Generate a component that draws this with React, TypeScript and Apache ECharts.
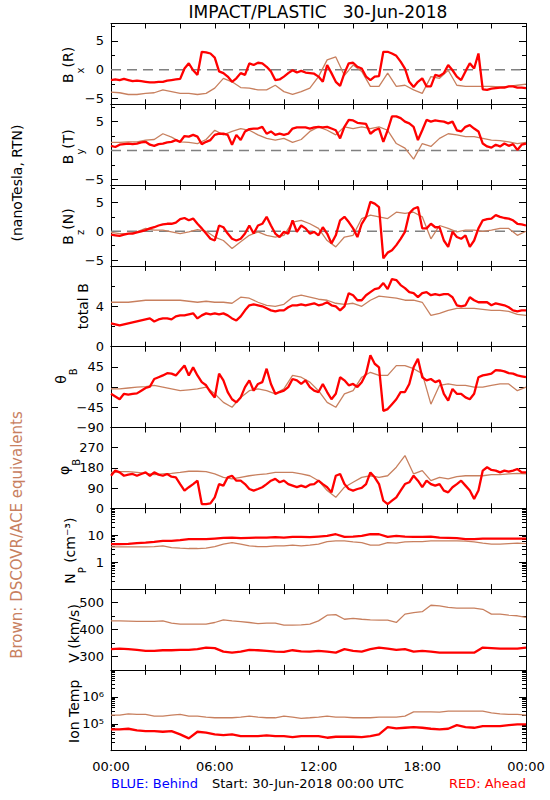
import React, { useEffect, useRef } from 'react';
import * as echarts from 'echarts';

// ---------- DATA ----------
// STEREO Ahead (red), 15-minute samples from 00:00 to 24:00
const redBx = [-1.8,-1.7,-1.8,-1.6,-1.8,-2.0,-1.9,-2.0,-2.1,-2.2,-2.2,-2.1,-2.1,-1.9,-1.8,-1.7,-1.6,0.2,1.1,-0.1,-0.9,3.1,3.0,2.8,2.1,-0.3,-0.6,-1.2,-2.1,-1.5,-0.6,-0.9,1.1,0.8,1.2,1.1,0.5,-0.3,-1.8,-1.7,-1.2,-0.6,-0.1,-0.5,-0.2,-0.5,-0.6,-0.7,-1.2,-2.1,0.8,-0.6,-2.1,-2.8,-0.6,1.1,1.2,0.5,0.2,-1.2,-1.8,-1.2,-1.1,3.1,3.1,2.8,2.4,1.4,0.2,-2.1,-3.0,-2.1,-1.5,-2.9,-2.9,-0.9,-1.1,-0.6,0.8,-0.1,-1.2,-1.8,-0.3,1.1,0.2,2.8,-3.4,-3.5,-3.3,-3.2,-3.1,-3.1,-2.9,-2.9,-3.1,-3.1,-3.2];
const redBy = [0.8,0.6,1.0,1.1,1.2,1.1,1.2,1.4,1.5,1.0,0.8,1.1,1.2,1.4,1.5,1.8,1.5,2.5,2.4,2.7,2.4,1.1,1.5,1.8,2.7,2.9,2.9,2.7,1.0,2.7,1.8,3.3,3.7,3.8,3.8,4.1,2.9,3.3,2.7,2.9,2.7,2.9,3.8,4.0,4.0,4.0,3.8,4.0,4.1,4.0,4.1,3.8,3.5,2.1,4.1,5.3,5.2,4.8,4.7,4.6,2.9,3.5,3.8,1.5,3.5,5.9,5.9,5.6,5.0,4.7,4.1,1.8,3.5,5.3,5.0,5.2,5.1,5.0,4.7,5.0,3.5,3.3,4.1,4.4,3.8,3.3,1.2,0.7,0.5,1.0,0.7,1.2,0.8,1.1,0.1,1.0,1.2];
const redBz = [-0.6,-0.7,-0.8,-0.6,-0.4,-0.4,-0.2,0,0.2,0.5,0.7,1.0,1.2,1.3,1.3,1.5,2.1,2.3,1.9,2.2,1.3,0.5,-0.4,-1.3,-1.6,1.0,0.7,-0.4,-1.3,-1.6,-1.3,-0.4,1.0,-0.4,1.0,1.3,2.5,1.0,-0.4,-1.0,-0.1,-0.4,1.9,-0.1,1.0,0.5,-0.4,-0.1,-0.7,0.7,-0.4,-2.1,-0.7,1.9,2.5,1.6,0.5,-1.0,1.3,2.5,5.1,4.8,4.2,-4.7,-3.7,-3.3,-2.4,-1.3,-0.1,3.1,3.9,4.2,0.5,0.5,1.3,0.7,0.7,-1.6,-2.7,-0.1,-1.0,-1.3,-0.7,-2.7,-1.6,0.5,1.9,2.1,2.2,2.8,2.5,2.3,2.2,1.9,1.3,1.2,1.0];
const redTotalB = [2.3,2.2,2.1,2.2,2.3,2.4,2.5,2.6,2.7,2.8,2.5,2.7,2.8,2.8,2.7,3.0,3.1,3.1,3.2,3.3,2.8,3.1,3.3,3.2,3.3,3.2,3.3,3.1,2.8,2.6,3.0,3.6,4.1,4.2,4.1,4.0,3.8,3.6,3.5,3.6,3.6,3.9,4.1,4.1,4.2,4.1,4.2,4.3,4.1,4.2,4.4,4.1,4.0,3.6,4.0,5.3,5.1,4.6,4.6,5.1,5.4,5.7,5.8,6.3,5.7,6.7,6.6,6.1,5.8,5.4,5.3,4.9,5.3,5.4,5.1,5.2,5.1,5.2,5.2,4.9,4.1,4.0,4.1,4.9,4.6,4.4,4.4,4.4,4.1,4.3,4.2,4.1,3.9,3.6,3.5,3.6,3.6];
const redTheta = [-15,-21,-27,-15,-17,-15,-14,-8,-2,1,18,22,26,31,30,26,37,48,26,44,26,11,4,-11,-23,30,15,-11,-27,-34,-23,0,15,-8,7,11,41,7,-15,-11,-8,0,18,15,7,15,0,-8,-11,7,-11,-27,-15,22,15,4,7,0,11,30,71,52,44,-53,-49,-38,-27,-11,-11,7,44,63,22,15,18,11,15,-15,-30,-4,-15,-15,-23,-27,-15,22,26,28,30,38,37,35,31,30,26,24,22];
const redPhi = [145,168,160,145,150,153,145,153,160,145,160,150,145,153,141,138,108,79,94,108,123,19,19,22,49,108,101,138,145,123,123,108,86,79,86,94,108,123,131,116,123,108,101,94,101,94,105,108,123,108,94,71,145,153,108,86,79,86,91,108,160,138,108,34,19,34,49,79,108,116,145,123,94,123,108,101,108,79,71,94,108,123,101,79,42,79,168,183,171,168,160,168,163,168,175,160,160];
// STEREO Ahead (red), 30-minute samples
const redNp = [4.64,4.64,4.77,5.06,5.35,5.66,6.17,6.17,6.53,7.11,7.11,7.11,7.53,7.97,8.20,7.75,7.97,8.20,8.20,8.44,8.20,8.68,8.68,8.44,8.93,9.45,10.9,8.68,8.93,9.45,10.9,10.9,8.68,9.45,8.93,8.68,8.68,8.93,8.20,7.97,7.75,7.11,7.11,7.53,7.53,7.53,7.53,7.53,7.53];
const redV = [327,329,327,324,321,321,323,323,324,324,327,333,331,318,314,318,324,323,321,318,317,323,319,318,321,318,314,327,321,318,327,333,329,324,327,318,321,318,314,314,314,314,314,333,331,329,329,329,333];
const redTemp = [61700,61700,65300,56600,53500,53500,50600,53500,40300,28600,50600,46500,40300,38000,40300,34900,34900,34900,37000,34900,34900,32100,34900,34900,34900,30300,33000,33000,33000,32100,34900,40300,75300,67100,71100,75300,71100,65300,61700,65300,89300,75300,71100,82000,82000,82000,89300,94400,94400];

// DSCOVR/ACE equivalents (brown), 30-minute samples
const brownBx = [-3.9,-4.0,-4.3,-4.3,-4.1,-4.0,-3.5,-3.8,-4.1,-4.1,-4.3,-4.1,-3.2,-1.5,-2.1,-3.1,-3.2,-3.5,-3.5,-2.7,-3.8,-4.3,-3.8,-3.2,-1.2,1.7,2.2,-1.0,0.8,-0.3,-2.9,-2.9,-0.6,-2.9,-2.7,-3.5,-4.1,-1.2,-1.5,-0.1,-2.7,-2.9,-2.9,-2.9,-2.9,-3.0,-2.9,-2.7,-2.5];
const brownBy = [1.4,1.4,1.5,1.5,1.8,1.9,2.9,2.3,1.5,1.4,1.2,1.9,3.5,2.7,3.3,3.8,3.5,2.7,2.1,1.8,2.1,1.4,1.9,3.3,4.1,3.5,2.7,4.1,3.8,4.1,3.8,4.1,3.5,1.2,0.4,-1.5,1.2,0.7,2.1,2.9,2.7,2.4,2.4,2.1,1.8,1.7,1.5,1.2,1.4];
const brownBz = [-0.2,-0.4,-0.4,-0.1,0.5,0.2,0.2,-0.1,-0.4,-0.1,0.3,0,-1.0,-1.6,-3.0,-1.8,-0.7,-0.1,-0.7,-1.0,-0.7,1.6,1.9,1.3,0.5,-1.6,-2.7,-1.0,-0.7,2.2,2.8,2.5,2.2,3.3,3.1,3.3,2.5,-1.3,1.0,0.5,-0.1,0.2,0.2,0,0.2,0.5,0.5,-0.7,0];
const brownTotalB = [4.4,4.4,4.4,4.5,4.6,4.6,4.6,4.6,4.6,4.5,4.4,4.5,4.4,4.4,4.3,4.9,4.8,4.4,4.1,4.0,4.2,4.9,5.1,4.9,4.7,4.6,4.3,4.2,4.3,4.0,4.6,5.0,4.9,4.8,4.6,4.6,4.4,3.1,3.3,3.6,3.8,3.8,3.8,3.7,3.6,3.6,3.5,3.2,3.1];
const brownTheta = [-4,-4,-2,0,1,4,0,-4,-8,-6,-4,0,-15,-34,-45,-23,-8,-4,-8,-15,-4,26,22,11,-8,-34,-45,-15,-8,22,33,26,26,48,48,41,30,-38,4,7,4,4,0,0,4,7,7,-8,0];
const brownPhi = [160,163,163,160,156,150,153,156,160,165,165,163,153,138,131,138,145,150,153,160,160,160,153,145,123,79,49,94,116,138,145,138,145,183,235,153,168,123,138,131,141,145,145,145,150,150,153,156,153];
const brownNp = [3.70,3.70,3.70,3.70,3.70,3.80,4.03,3.49,3.30,3.21,3.21,3.30,3.80,4.64,5.35,4.64,4.03,3.80,3.80,4.03,4.03,4.26,4.03,4.26,4.64,5.83,6.17,6.17,5.66,5.35,4.26,4.26,5.35,5.06,5.66,5.83,5.83,6.17,6.17,6.17,6.17,6.00,5.66,5.06,4.64,4.64,4.91,5.06,4.91];
const brownV = [432,432,431,430,430,430,432,424,420,420,420,420,426,436,432,429,426,422,424,424,416,416,417,420,432,453,455,438,441,438,436,435,435,426,457,463,466,490,488,482,479,479,479,475,457,457,453,451,445];
const brownTemp = [2.09e5,2.09e5,2.34e5,2.22e5,2.22e5,1.92e5,1.92e5,2.09e5,2.22e5,1.92e5,1.92e5,1.77e5,1.67e5,1.67e5,1.67e5,1.77e5,1.92e5,1.77e5,1.67e5,1.67e5,1.92e5,1.77e5,1.58e5,1.67e5,1.77e5,1.92e5,1.77e5,1.77e5,1.67e5,1.67e5,1.67e5,1.77e5,1.77e5,1.77e5,1.92e5,2.78e5,2.78e5,2.78e5,2.70e5,2.94e5,2.94e5,2.94e5,2.94e5,2.94e5,2.55e5,2.34e5,2.22e5,2.22e5,2.09e5];

// Tick labels
const timeTickLabels = ['00:00', '06:00', '12:00', '18:00', '00:00'];
const title = 'IMPACT/PLASTIC   30-Jun-2018';

// ---------- STYLE / LAYOUT ----------
const FONT = '"DejaVu Sans", sans-serif';
const RED = '#ff0000';
const BROWN = '#c8805f';
const GRID_LEFT = 111;
const GRID_RIGHT = 24;
const TOP0 = 23.5;
const PH = 80.8;

const logMinor = (decades: number[]) => {
  const out: number[] = [];
  decades.forEach((d) => { for (let m = 2; m <= 9; m++) out.push(m * d); });
  return out;
};

const fmtSigned = (v: number) => (v < 0 ? '\u2212' + Math.abs(v) : String(v));

type Panel = {
  name: string; nameX: number; nameDy: number;
  type: 'value' | 'log'; min: number; max: number;
  major: number[]; labels: number[]; minor: number[];
  fmt: (v: number) => string;
  red: number[]; redStep: number; brown: number[]; brownStep: number; zero?: boolean;
};

const panels: Panel[] = [
  { name: '{n|B}{s|x}{n|(R)}', nameX: 73, nameDy: 1, type: 'value', min: -6, max: 8, major: [-5, 0, 5], labels: [-5, 0, 5], minor: [-2.5, 2.5, 7.5], fmt: fmtSigned, red: redBx, redStep: 0.25, brown: brownBx, brownStep: 0.5, zero: true },
  { name: '{n|B}{s|y}{n|(T)}', nameX: 73, nameDy: 2, type: 'value', min: -6, max: 8, major: [-5, 0, 5], labels: [-5, 0, 5], minor: [-2.5, 2.5, 7.5], fmt: fmtSigned, red: redBy, redStep: 0.25, brown: brownBy, brownStep: 0.5, zero: true },
  { name: '{n|B}{s|z}{n|(N)}', nameX: 73, nameDy: 1, type: 'value', min: -6, max: 8, major: [-5, 0, 5], labels: [-5, 0, 5], minor: [-2.5, 2.5, 7.5], fmt: fmtSigned, red: redBz, redStep: 0.25, brown: brownBz, brownStep: 0.5, zero: true },
  { name: '{n|total B}', nameX: 84, nameDy: 0, type: 'value', min: 0, max: 8, major: [0, 4, 8], labels: [0, 4], minor: [2, 6], fmt: fmtSigned, red: redTotalB, redStep: 0.25, brown: brownTotalB, brownStep: 0.5 },
  { name: '{n|\u03b8}{s|B}', nameX: 66, nameDy: -11, type: 'value', min: -90, max: 90, major: [-90, -45, 0, 45, 90], labels: [-90, -45, 0, 45], minor: [], fmt: fmtSigned, red: redTheta, redStep: 0.25, brown: brownTheta, brownStep: 0.5 },
  { name: '{n|\u03c6}{s|B}', nameX: 69, nameDy: -1, type: 'value', min: 0, max: 360, major: [0, 90, 180, 270, 360], labels: [0, 90, 180, 270], minor: [], fmt: fmtSigned, red: redPhi, redStep: 0.25, brown: brownPhi, brownStep: 0.5 },
  { name: '{n|N}{s|P}{n| (cm\u207b\u00b3)}', nameX: 75, nameDy: 2, type: 'log', min: 0.1, max: 100, major: [0.1, 1, 10, 100], labels: [1, 10], minor: logMinor([0.1, 1, 10]), fmt: (v) => String(Math.round(v)), red: redNp, redStep: 0.5, brown: brownNp, brownStep: 0.5 },
  { name: '{n|V (km/s)}', nameX: 75, nameDy: 4, type: 'value', min: 250, max: 550, major: [300, 400, 500], labels: [300, 400, 500], minor: [350, 450], fmt: fmtSigned, red: redV, redStep: 0.5, brown: brownV, brownStep: 0.5 },
  { name: '{n|Ion Temp}', nameX: 75, nameDy: 1, type: 'log', min: 1e4, max: 1e7, major: [1e4, 1e5, 1e6, 1e7], labels: [1e5, 1e6], minor: logMinor([1e4, 1e5, 1e6]), fmt: (v) => (Math.round(Math.log10(v)) === 5 ? '10\u2075' : '10\u2076'), red: redTemp, redStep: 0.5, brown: brownTemp, brownStep: 0.5 },
];

const RICH = {
  n: { fontSize: 14, fontFamily: FONT, verticalAlign: 'top', lineHeight: 16 },
  s: { fontSize: 10, fontFamily: FONT, verticalAlign: 'bottom', lineHeight: 25 },
};

const pairs = (vals: number[], step: number) => vals.map((v, i) => [i * step, v]);

function buildOption() {
  const grid: any[] = [];
  const xAxis: any[] = [];
  const yAxis: any[] = [];
  const series: any[] = [];
  const graphic: any[] = [];

  panels.forEach((p, i) => {
    const top = TOP0 + i * PH;
    grid.push({ left: GRID_LEFT, right: GRID_RIGHT, top, height: PH, outerBoundsMode: 'none', containLabel: false });
    const isLast = i === panels.length - 1;
    const xBase = {
      type: 'value', gridIndex: i, min: 0, max: 24, interval: 2,
      axisLine: { show: true, onZero: false, lineStyle: { color: '#000', width: 1 } },
      axisTick: { show: true, inside: true, length: 5, lineStyle: { color: '#000', width: 1 } },
      splitLine: { show: false },
    };
    xAxis.push({
      ...xBase, position: 'bottom',
      axisLabel: {
        show: isLast, margin: 9, color: '#000', fontSize: 13, fontFamily: FONT,
        showMinLabel: true, showMaxLabel: true,
        formatter: (v: number) => (v % 6 === 0 ? timeTickLabels[v / 6] : ''),
      },
    });
    xAxis.push({ ...xBase, position: 'top', axisLabel: { show: false } });

    const yBase = {
      type: p.type, gridIndex: i, min: p.min, max: p.max,
      splitLine: { show: false },
      ...(p.type === 'log' ? { logBase: 10 } : {}),
    };
    const majTick = { show: true, inside: true, length: 7, customValues: p.major, lineStyle: { color: '#000', width: 1 } };
    const minTick = { show: p.minor.length > 0, inside: true, length: 4, customValues: p.minor.length ? p.minor : [p.min], lineStyle: { color: '#000', width: 1 } };
    yAxis.push({
      ...yBase, position: 'left',
      axisLine: { show: true, onZero: false, lineStyle: { color: '#000', width: 1 } },
      axisTick: majTick,
      axisLabel: { show: true, customValues: p.labels, formatter: p.fmt, color: '#000', fontSize: 13, fontFamily: FONT, margin: 7 },
    });
    yAxis.push({
      ...yBase, position: 'right',
      axisLine: { show: true, onZero: false, lineStyle: { color: '#000', width: 1 } },
      axisTick: majTick, axisLabel: { show: false },
    });
    yAxis.push({ ...yBase, position: 'left', axisLine: { show: false, onZero: false }, axisTick: minTick, axisLabel: { show: false } });
    yAxis.push({ ...yBase, position: 'right', axisLine: { show: false, onZero: false }, axisTick: minTick, axisLabel: { show: false } });

    const xi = 2 * i;
    const yi = 4 * i;
    if (p.zero) {
      series.push({
        type: 'line', xAxisIndex: xi, yAxisIndex: yi, data: [[0, 0], [24, 0]], showSymbol: false, silent: true, z: 1,
        lineStyle: { color: '#808080', width: 1.5, type: [10, 6] },
      });
    }
    series.push({
      type: 'line', xAxisIndex: xi, yAxisIndex: yi, data: pairs(p.brown, p.brownStep), showSymbol: false, z: 2,
      lineStyle: { color: BROWN, width: 1.3 },
    });
    series.push({
      type: 'line', xAxisIndex: xi, yAxisIndex: yi, data: pairs(p.red, p.redStep), showSymbol: false, z: 3,
      lineStyle: { color: RED, width: 2.3 },
    });

    graphic.push({
      type: 'text', x: p.nameX, y: top + PH / 2 + p.nameDy, rotation: Math.PI / 2,
      style: { text: p.name, rich: RICH, fill: '#000', align: 'center', verticalAlign: 'middle', font: `14px ${FONT}` },
    });
  });

  graphic.push({ type: 'text', x: 318, y: 12, style: { text: title, fill: '#000', align: 'center', verticalAlign: 'middle', font: `17px ${FONT}` } });
  graphic.push({ type: 'text', x: 17, y: 183, rotation: Math.PI / 2, style: { text: '(nanoTesla, RTN)', fill: '#000', align: 'center', verticalAlign: 'middle', font: `14px ${FONT}` } });
  graphic.push({ type: 'text', x: 17, y: 535, rotation: Math.PI / 2, style: { text: 'Brown: DSCOVR/ACE equivalents', fill: BROWN, align: 'center', verticalAlign: 'middle', font: `15px ${FONT}` } });
  graphic.push({ type: 'text', x: 111, y: 783, style: { text: 'BLUE: Behind', fill: '#0000ff', align: 'left', verticalAlign: 'middle', font: `13px ${FONT}` } });
  graphic.push({ type: 'text', x: 212, y: 783, style: { text: 'Start: 30-Jun-2018 00:00 UTC', fill: '#000', align: 'left', verticalAlign: 'middle', font: `13px ${FONT}` } });
  graphic.push({ type: 'text', x: 526, y: 783, style: { text: 'RED: Ahead', fill: RED, align: 'right', verticalAlign: 'middle', font: `13px ${FONT}` } });

  return {
    animation: false,
    backgroundColor: '#ffffff',
    textStyle: { fontFamily: FONT },
    grid, xAxis, yAxis, series, graphic,
  };
}

export default function App() {
  const ref = useRef<HTMLDivElement>(null);
  useEffect(() => {
    if (!ref.current) return;
    const chart = echarts.init(ref.current, undefined, { renderer: 'svg' });
    chart.setOption(buildOption() as any);
    return () => chart.dispose();
  }, []);
  return <div ref={ref} style={{ position: 'absolute', left: 0, top: 0, width: 550, height: 800 }} />;
}
